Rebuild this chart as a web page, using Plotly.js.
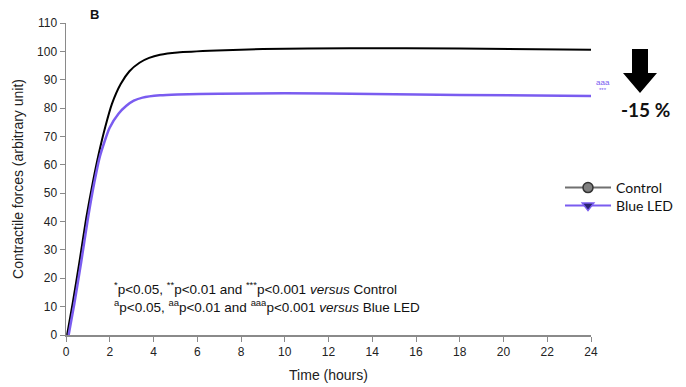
<!DOCTYPE html>
<html><head><meta charset="utf-8">
<script src="https://cdn.plot.ly/plotly-3.0.1.min.js"></script>
<style>html,body{margin:0;padding:0;background:#fff}</style>
</head><body>
<div id="chart" style="width:686px;height:387px"></div>
<script>
// Data
const controlTime  = [0.05, 0.3, 0.62, 0.92, 1.23, 1.5, 1.8, 2.1, 2.5, 2.9, 3.36, 3.8, 4.3, 5.1, 6.9, 9, 13, 18, 24];
const controlForce = [0, 11, 26, 41, 54, 64, 73.5, 81.5, 88.5, 93, 96, 97.7, 98.8, 99.6, 100.3, 100.8, 101.1, 101, 100.6];
const blueTime  = [0.12, 0.38, 0.7, 1.0, 1.3, 1.55, 1.99, 2.4, 2.76, 3.1, 3.5, 4.3, 5.1, 7, 10, 14, 18, 24];
const blueForce = [0, 11, 26, 41, 54, 63, 73, 78, 80.8, 82.6, 83.7, 84.5, 84.8, 85.1, 85.2, 85, 84.6, 84.3];
const xTicks = [0,2,4,6,8,10,12,14,16,18,20,22,24];
const yTicks = [0,10,20,30,40,50,60,70,80,90,100,110];
const seriesNames = ['Control', 'Blue LED'];
const reductionLabel = '-15 %';

const L = 66, R = 591, T = 23, B = 335;
const W = R - L, H = B - T;
const px = x => (x - L) / W;
const py = y => (B - y) / H;

const blue = '#7a5cf0';
const axisCol = '#8a8a8a';
const font = 'Liberation Sans, Arial, sans-serif';
const legFont = {family: 'Lato, Noto Sans, sans-serif', size: 14, color: '#111'};

const traces = [
  {x: controlTime, y: controlForce, mode: 'lines', line: {color: '#000', width: 2, shape: 'spline', smoothing: 0.6}, showlegend: false, hoverinfo: 'skip'},
  {x: blueTime, y: blueForce, mode: 'lines', line: {color: blue, width: 2.5, shape: 'spline', smoothing: 0.6}, showlegend: false, hoverinfo: 'skip'},
  {x: [null], y: [null], name: seriesNames[0], legend: 'legend', mode: 'lines+markers', line: {color: '#707070', width: 2}, marker: {symbol: 'circle', size: 10, color: '#808080', line: {color: '#333', width: 1.5}}},
  {x: [null], y: [null], name: seriesNames[1], legend: 'legend2', mode: 'lines+markers', line: {color: blue, width: 2}, marker: {symbol: 'triangle-down', size: 10, color: '#2a2470', line: {color: blue, width: 1.5}}}
];

const arrowPath = 'M ' + px(632) + ' ' + py(49) + ' L ' + px(648) + ' ' + py(49) +
  ' L ' + px(648) + ' ' + py(73) + ' L ' + px(657) + ' ' + py(73) +
  ' L ' + px(640) + ' ' + py(93) + ' L ' + px(623) + ' ' + py(73) +
  ' L ' + px(632) + ' ' + py(73) + ' Z';

const legBase = {xref: 'container', yref: 'container', xanchor: 'left', yanchor: 'middle', bgcolor: 'rgba(0,0,0,0)', font: legFont, itemwidth: 46};

const layout = {
  width: 686, height: 387,
  margin: {l: L, r: 686 - R, t: T, b: 387 - B, pad: 0, autoexpand: false},
  paper_bgcolor: '#fff', plot_bgcolor: '#fff',
  font: {family: font, size: 12, color: '#222'},
  xaxis: {
    range: [0, 24], tickvals: xTicks, ticktext: xTicks.map(String), automargin: false,
    showgrid: false, zeroline: false, showline: true, linecolor: axisCol, linewidth: 1.5,
    ticks: 'outside', ticklen: 5, tickcolor: axisCol, tickfont: {size: 12, color: '#222'},
    title: {text: 'Time (hours)', font: {size: 14, color: '#222'}, standoff: 12}
  },
  yaxis: {
    range: [0, 110], tickvals: yTicks, ticktext: yTicks.map(String), automargin: false,
    showgrid: false, zeroline: false, showline: true, linecolor: axisCol, linewidth: 1.5,
    ticks: 'outside', ticklen: 5, tickcolor: axisCol, tickfont: {size: 12, color: '#222'},
    title: {text: 'Contractile forces (arbitrary unit)', font: {size: 14, color: '#222'}, standoff: 10}
  },
  legend: Object.assign({x: 560 / 686, y: 1 - 188 / 387}, legBase),
  legend2: Object.assign({x: 560 / 686, y: 1 - 206 / 387}, legBase),
  shapes: [{type: 'path', xref: 'paper', yref: 'paper', path: arrowPath, fillcolor: '#000', line: {color: '#000', width: 0}}],
  annotations: [
    {xref: 'paper', yref: 'paper', x: px(88), y: py(14), text: '<b>B</b>', showarrow: false, font: {size: 13, color: '#111'}, xanchor: 'left', yanchor: 'middle'},
    {xref: 'paper', yref: 'paper', x: px(603), y: py(82), text: 'aaa', showarrow: false, font: {size: 8, color: blue}, xanchor: 'center', yanchor: 'middle'},
    {xref: 'paper', yref: 'paper', x: px(603), y: py(90), text: '***', showarrow: false, font: {size: 6, color: blue}, xanchor: 'center', yanchor: 'middle'},
    {xref: 'paper', yref: 'paper', x: px(645), y: py(109), text: '<b>' + reductionLabel + '</b>', showarrow: false, font: {family: 'Lato, Noto Sans, sans-serif', size: 19, color: '#111'}, xanchor: 'center', yanchor: 'middle'},
    {xref: 'paper', yref: 'paper', x: px(112), y: py(288), xanchor: 'left', yanchor: 'middle', text: '<sup>*</sup>p<0.05, <sup>**</sup>p<0.01 and <sup>***</sup>p<0.001 <i>versus</i> Control', showarrow: false, font: {size: 13.5, color: '#111'}},
    {xref: 'paper', yref: 'paper', x: px(112), y: py(306), xanchor: 'left', yanchor: 'middle', text: '<sup>a</sup>p<0.05, <sup>aa</sup>p<0.01 and <sup>aaa</sup>p<0.001 <i>versus</i> Blue LED', showarrow: false, font: {size: 13.5, color: '#111'}}
  ]
};

Plotly.newPlot('chart', traces, layout, {displayModeBar: false, staticPlot: true});
</script>
</body></html>
